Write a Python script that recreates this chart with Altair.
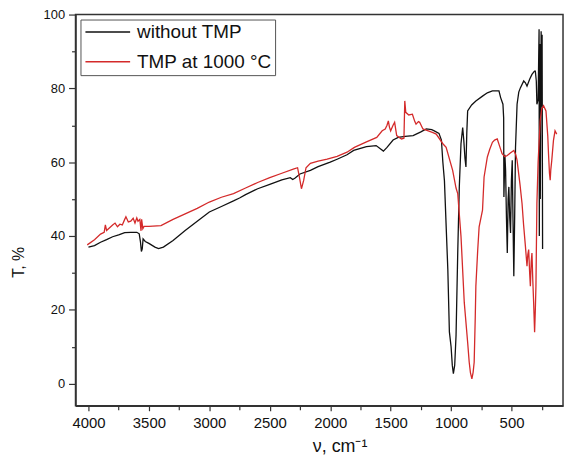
import altair as alt
import pandas as pd

series_names = ["without TMP", "TMP at 1000 °C"]
series_colors = ["#111111", "#d42a2a"]

# Black spectrum (without TMP)
wn_plain = [4000, 3950, 3900, 3850, 3800, 3750, 3700, 3650, 3600, 3580, 3570, 3562, 3555, 3548,
            3530, 3500, 3450, 3420, 3380, 3300, 3200, 3100, 3000, 2900, 2800, 2750, 2700, 2600,
            2500, 2400, 2330, 2310, 2290, 2250, 2164, 2100, 2000, 1943, 1861, 1806, 1700, 1620,
            1580, 1560, 1530, 1480, 1437, 1380, 1314, 1250, 1205, 1160, 1139, 1100, 1080, 1068,
            1055, 1040, 1027, 1014, 1000, 990, 981, 970, 959, 945, 932, 918, 904, 895, 885, 877,
            870, 863, 830, 795, 740, 700, 658, 604, 590, 571, 565, 563, 555, 549, 542, 535, 528,
            522, 515, 508, 501, 494, 488, 481, 474, 467, 454, 440, 426, 399, 385, 372, 350, 331,
            310, 303, 295, 290, 280, 272, 270, 266, 262, 255, 250, 247, 243]
t_plain = [37.0, 37.4, 38.3, 39.0, 39.8, 40.3, 40.9, 41.0, 41.0, 40.6, 38.5, 35.8, 36.5, 39.2,
           38.5, 38.0, 37.0, 36.6, 37.0, 38.8, 41.5, 44.0, 46.5, 48.0, 49.5, 50.3, 51.2, 52.8,
           54.0, 55.2, 55.8, 55.3, 55.7, 56.8, 57.8, 58.8, 60.0, 60.8, 62.0, 63.2, 64.2, 64.5,
           63.5, 63.0, 64.0, 66.0, 66.7, 67.0, 67.2, 68.2, 69.0, 68.8, 68.5, 67.8, 66.0, 60.0,
           55.0, 42.0, 31.0, 14.0, 10.0, 5.0, 2.7, 5.0, 13.0, 35.4, 53.3, 65.0, 69.4, 66.0, 61.0, 58.7,
           68.0, 73.9, 75.5, 76.6, 77.9, 78.8, 79.3, 79.3, 77.5, 75.7, 72.0, 50.6, 62.0, 57.8, 45.0, 35.4, 50.0,
           53.3, 45.0, 40.8, 55.0, 60.5, 45.0, 29.1, 45.0, 64.0, 75.7, 79.0, 80.2, 82.0, 81.5, 80.6, 82.5, 83.8,
           84.7, 84.7, 82.0, 75.7, 77.0, 96.0, 40.0, 92.0, 50.0, 95.5, 75.0, 94.5, 36.5]

# Red spectrum (TMP at 1000 °C)
wn_tmp = [4010, 3950, 3900, 3870, 3860, 3850, 3800, 3780, 3760, 3740, 3720, 3700, 3690, 3670,
          3650, 3630, 3615, 3600, 3590, 3575, 3565, 3560, 3550, 3540, 3500, 3400, 3300, 3200,
          3100, 3000, 2900, 2800, 2700, 2600, 2500, 2400, 2300, 2270, 2255, 2238, 2220, 2200,
          2164, 2100, 2025, 1943, 1861, 1800, 1700, 1615, 1570, 1545, 1530, 1519, 1510, 1500,
          1480, 1467, 1450, 1410, 1390, 1383, 1375, 1350, 1320, 1300, 1290, 1270, 1260, 1233,
          1200, 1150, 1123, 1068, 1041, 987, 959, 945, 918, 891, 863, 850, 840, 828, 818, 809,
          800, 795, 780, 768, 740, 727, 700, 680, 658, 640, 618, 600, 578, 555, 535, 510, 481,
          465, 454, 430, 413, 400, 385, 372, 365, 358, 350, 344, 337, 331, 324, 317, 309, 303,
          298, 290, 280, 263, 250, 235, 215, 200, 194, 186, 180, 175, 167, 153, 140, 126]
t_tmp = [37.6, 39.0, 40.5, 41.0, 43.0, 41.5, 43.0, 43.5, 42.5, 43.2, 43.0, 44.5, 45.2, 43.8,
         44.0, 44.8, 43.5, 44.9, 44.0, 44.5, 41.4, 44.5, 42.0, 42.6, 42.6, 42.8, 44.5, 46.0,
         47.5, 49.2, 50.5, 51.5, 53.0, 54.5, 55.8, 57.0, 58.2, 58.5, 56.0, 52.8, 55.0, 58.5,
         59.7, 60.3, 60.8, 61.6, 62.7, 64.0, 65.5, 66.7, 68.5, 69.0, 70.0, 71.2, 69.5, 68.5,
         70.0, 70.8, 67.2, 66.3, 66.5, 76.6, 73.5, 72.8, 73.0, 71.0, 70.3, 71.0, 70.8, 69.0,
         68.6, 68.0, 67.6, 65.0, 64.0, 57.8, 53.0, 51.5, 39.9, 22.0, 11.2, 5.8, 3.0, 1.3, 3.0, 5.8,
         18.0, 26.4, 36.0, 42.5, 47.0, 56.0, 61.4, 63.5, 65.4, 66.0, 66.3, 64.5, 62.3, 61.5, 61.8, 62.5, 63.2,
         62.0, 60.5, 54.0, 48.8, 43.0, 37.2, 31.8, 35.0, 36.3, 30.0, 26.4, 33.0, 35.4, 28.0, 22.0, 13.9, 20.0,
         26.4, 48.8, 60.0, 71.2, 74.5, 75.3, 73.9, 67.0, 62.3, 57.0, 55.1, 58.0, 60.5, 65.9, 68.5, 67.6]

x_major = [4000, 3500, 3000, 2500, 2000, 1500, 1000, 500]
x_minor = [3750, 3250, 2750, 2250, 1750, 1250, 750, 250]
y_major = [0, 20, 40, 60, 80, 100]
y_minor = [10, 30, 50, 70, 90]

rows = []
for i, (w, t) in enumerate(zip(wn_plain, t_plain)):
    rows.append({"wn": w, "T": t, "series": series_names[0], "idx": i})
for i, (w, t) in enumerate(zip(wn_tmp, t_tmp)):
    rows.append({"wn": w, "T": t, "series": series_names[1], "idx": i})
df = pd.DataFrame(rows)

FONT = "Liberation Sans"
xs = alt.Scale(domain=[74, 4107], reverse=True, nice=False, zero=False)
ys = alt.Scale(domain=[-6, 100], nice=False, zero=False)

lines = alt.Chart(df).mark_line(strokeWidth=1.3).encode(
    x=alt.X("wn:Q", scale=xs, axis=alt.Axis(
        values=x_major, orient="bottom", title="ν, cm⁻¹", format="d",
        labelFontSize=15, labelFont=FONT, labelColor="#111", labelPadding=5,
        tickSize=5, tickColor="#333", tickWidth=1.2,
        domainColor="#333", domainWidth=1.5, grid=False,
        titleFont=FONT, titleFontSize=18, titleFontWeight="normal", titleColor="#111",
        titleX=266, titleY=46, titleBaseline="alphabetic")),
    y=alt.Y("T:Q", scale=ys, axis=alt.Axis(
        values=y_major, orient="left", title="T, %", format="d",
        labelFontSize=13, labelFont=FONT, labelColor="#111", labelPadding=4,
        tickSize=7, tickColor="#333", tickWidth=1.2,
        domainColor="#333", domainWidth=1.5, grid=False,
        titleFont=FONT, titleFontSize=16, titleFontWeight="normal", titleColor="#111",
        titleX=-52, titleY=249, titleBaseline="alphabetic", titleAngle=270)),
    color=alt.Color("series:N", scale=alt.Scale(domain=series_names, range=series_colors),
                    legend=alt.Legend(
                        orient="none", legendX=5, legendY=5, title=None,
                        symbolType="M-1,0H5", symbolSize=225, symbolStrokeWidth=1.5,
                        labelFont=FONT, labelFontSize=19, labelColor="#111", labelOffset=35,
                        padding=3, rowPadding=10, strokeColor="#555", fillColor="white")),
    order=alt.Order("idx:Q"),
)

minor = alt.Chart(df).mark_line(opacity=0).encode(
    x=alt.X("wn:Q", scale=xs, axis=alt.Axis(
        values=x_minor, orient="bottom", title=None, labels=False, domain=False,
        tickSize=4, tickColor="#333", tickWidth=1.2, grid=False)),
    y=alt.Y("T:Q", scale=ys, axis=alt.Axis(
        values=y_minor, orient="left", title=None, labels=False, domain=False,
        tickSize=4, tickColor="#333", tickWidth=1.2, grid=False)),
    detail="series:N",
    order=alt.Order("idx:Q"),
)

chart = alt.layer(minor, lines).resolve_axis(
    x="independent", y="independent"
).properties(
    width=491, height=394,
    padding={"left": 68, "top": 5, "right": 2, "bottom": 50},
    autosize=alt.AutoSizeParams(type="none"),
).configure_view(stroke="#333", strokeWidth=1.5)

chart.save("out.html", embed_options={"renderer": "svg", "actions": False})
